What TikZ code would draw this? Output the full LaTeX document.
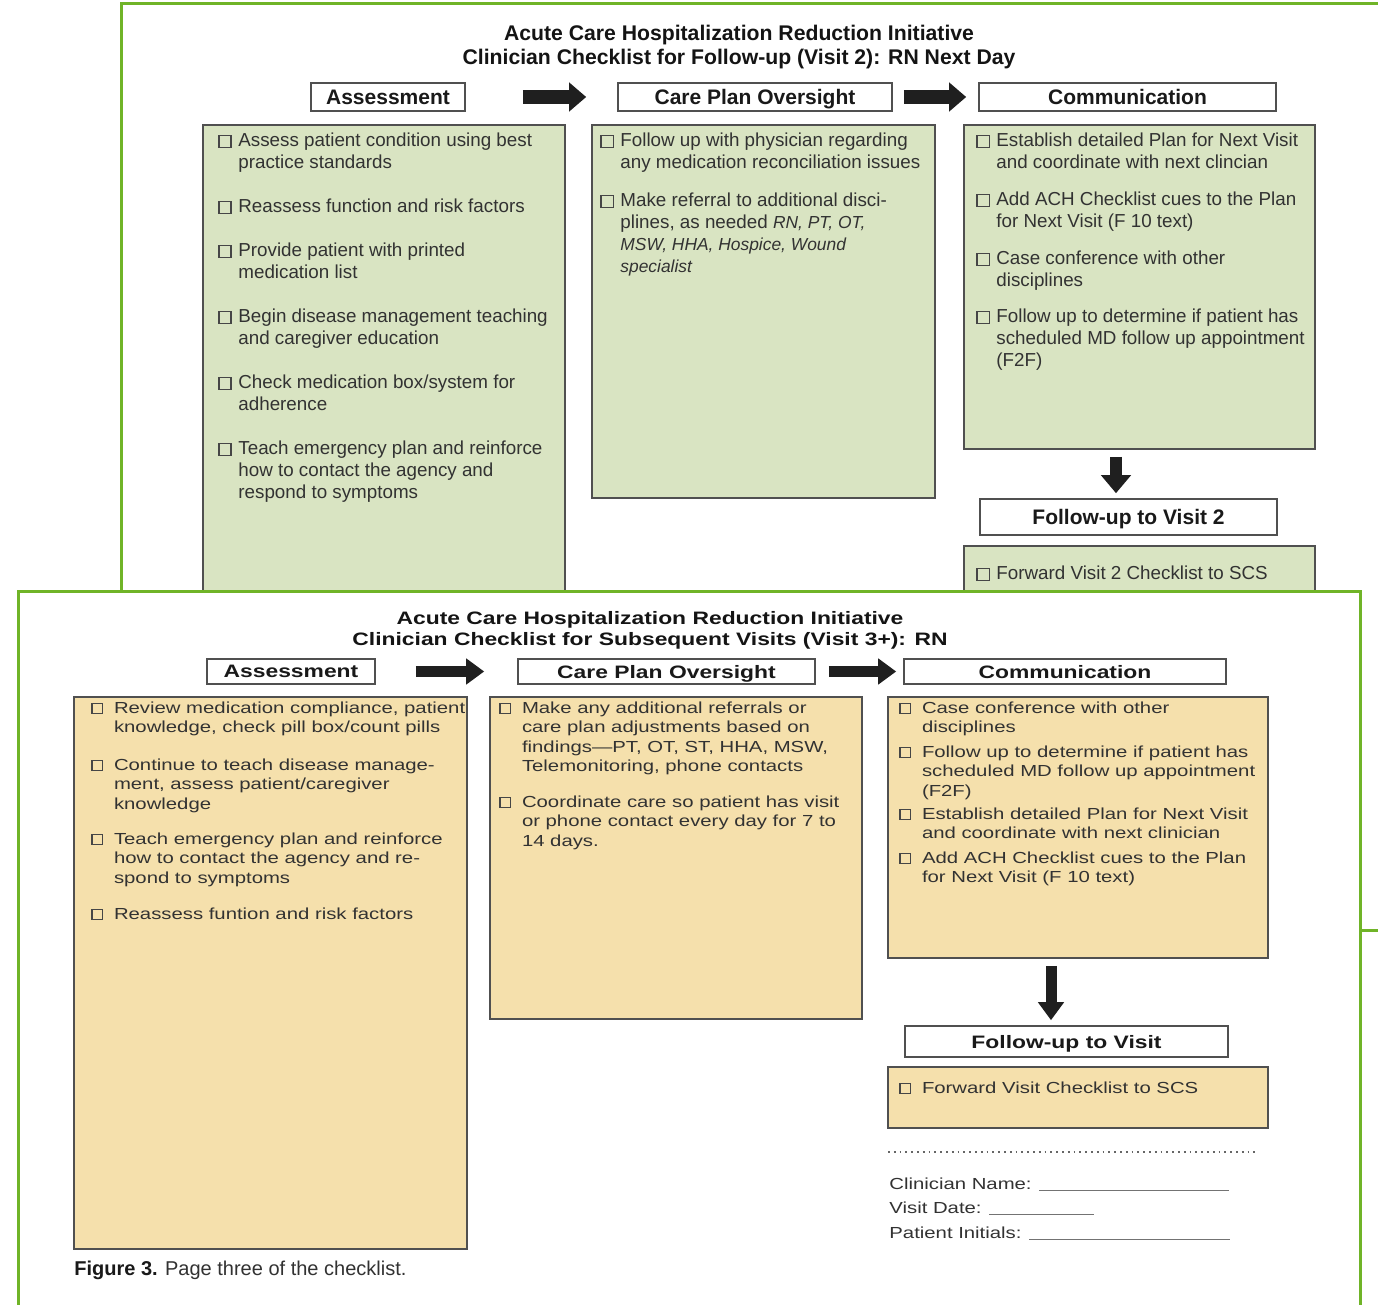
\documentclass[tikz,border=0pt]{standalone}
\usepackage{fontspec}
\setmainfont{Liberation Sans}
\newfontfamily\widefont[FakeStretch=1.27]{Liberation Sans}
\usetikzlibrary{arrows.meta,fit}
\definecolor{panelgreen}{RGB}{112,180,40}
\definecolor{boxgreen}{RGB}{217,228,194}
\definecolor{boxtan}{RGB}{245,224,172}
\definecolor{boxline}{RGB}{80,80,80}
\definecolor{txt}{RGB}{50,50,50}
\definecolor{cbcol}{RGB}{70,70,70}
\newcommand\cbx[1]{\begingroup\setlength\fboxsep{0pt}\setlength\fboxrule{0.55pt}\color{cbcol}\fbox{\rule{0pt}{#1}\hspace{#1}}\endgroup}
\newcommand\titem[1]{\makebox[10pt][l]{\cbx{5.5pt}}\begin{tabular}[t]{@{}l@{}}#1\end{tabular}}
\newcommand\bitem[1]{\makebox[11.3pt][l]{\cbx{4.6pt}}\begin{tabular}[t]{@{}l@{}}#1\end{tabular}}
\newcommand\sit[1]{{\fontsize{8.7}{11}\selectfont\itshape #1}}
\begin{document}
\begin{tikzpicture}[x=0.5pt,y=-0.5pt,
  panel/.style={draw=panelgreen, line width=1.5pt, fill=white, inner sep=0pt},
  gbox/.style={draw=boxline, line width=0.8pt, fill=boxgreen, inner sep=0pt},
  tbox/.style={draw=boxline, line width=0.8pt, fill=boxtan, inner sep=0pt},
  hdr/.style={draw=boxline, line width=0.8pt, fill=white, inner sep=0pt,
     label={[text=black!90, text depth=0pt, font=\bfseries\fontsize{10.5}{12}\selectfont]center:#1}},
  bhdr/.style={draw=boxline, line width=0.8pt, fill=white, inner sep=0pt,
     label={[text=black!90, text depth=0pt, font=\widefont\bfseries\fontsize{9}{11}\selectfont]center:#1}},
  titm/.style={anchor=base west, inner sep=0pt, text=txt, font=\fontsize{9.4}{11}\selectfont},
  bitm/.style={anchor=base west, inner sep=0pt, text=txt, font=\widefont\fontsize{8}{9.75}\selectfont},
  tarrow/.style={line width=7pt, black!88, -{Triangle[length=8.5pt,width=14pt]}},
  barrow/.style={line width=5.5pt, black!88, -{Triangle[length=9pt,width=12.5pt]}},
]
\useasboundingbox (0,0) rectangle (1378,1305);
\begin{scope}
\clip (0,0) rectangle (1378,1305);
\fill[white] (0,0) rectangle (1378,1305);
% ---------------- top panel ----------------
\node[panel, fit={(121,4) (1400,930)}] (p1) {};
\node[font=\bfseries\fontsize{10.6}{12}\selectfont, align=center, text=black!92] (t1) at (739,47)
  {Acute Care Hospitalization Reduction Initiative\\Clinician Checklist for Follow-up (Visit 2): RN Next Day};
\node[hdr=Assessment, fit={(311,83) (465,111)}] (ha1) {};
\node[hdr=Care Plan Oversight, fit={(618,83) (892,111)}] (hc1) {};
\node[hdr=Communication, fit={(979,83) (1276,111)}] (hm1) {};
\draw[tarrow, shorten <=28.5pt, shorten >=15.5pt] (ha1.east) -- (hc1.west);
\draw[tarrow, shorten <=5.5pt, shorten >=6pt] (hc1.east) -- (hm1.west);

\node[gbox, fit={(203,125) (565,640)}] (ba1) {};
\node[gbox, fit={(592,125) (935,498)}] (bc1) {};
\node[gbox, fit={(964,125) (1315,449)}] (bm1) {};
\node[hdr=Follow-up to Visit 2, fit={(980,499) (1277,535)}] (hf1) {};
\node[gbox, fit={(964,546) (1315,640)}] (bf1) {};
\coordinate (dx1) at (1116,0);
\draw[line width=6pt, black!88, -{Triangle[length=9pt,width=14.5pt]}, shorten <=3.5pt, shorten >=2.5pt]
  (bm1.south -| dx1) -- (hf1.north -| dx1);

\node[titm] (ta1) at (218,147) {\titem{Assess patient condition using best\\practice standards}};
\node[titm] (ta2) at (218,213) {\titem{Reassess function and risk factors}};
\node[titm] (ta3) at (218,257) {\titem{Provide patient with printed\\medication list}};
\node[titm] (ta4) at (218,323) {\titem{Begin disease management teaching\\and caregiver education}};
\node[titm] (ta5) at (218,389) {\titem{Check medication box/system for\\adherence}};
\node[titm] (ta6) at (218,455) {\titem{Teach emergency plan and reinforce\\how to contact the agency and\\respond to symptoms}};

\node[titm] (tc1) at (600,147) {\titem{Follow up with physician regarding\\any medication reconciliation issues}};
\node[titm] (tc2) at (600,207) {\titem{Make referral to additional disci-\\plines, as needed \sit{RN, PT, OT,}\\\sit{MSW, HHA, Hospice, Wound}\\\sit{specialist}}};

\node[titm] (tm1) at (976,147) {\titem{Establish detailed Plan for Next Visit\\and coordinate with next clincian}};
\node[titm] (tm2) at (976,206) {\titem{Add ACH Checklist cues to the Plan\\for Next Visit (F 10 text)}};
\node[titm] (tm3) at (976,265) {\titem{Case conference with other\\disciplines}};
\node[titm] (tm4) at (976,323) {\titem{Follow up to determine if patient has\\scheduled MD follow up appointment\\(F2F)}};
\node[titm] (tf1) at (976,580) {\titem{Forward Visit 2 Checklist to SCS}};

% ---------------- bottom panel ----------------
\node[panel, fit={(18,591) (1360,1340)}] (p2) {};
\node[font=\widefont\bfseries\fontsize{9}{10.6}\selectfont, align=center, text=black!92] (t2) at (650,630)
  {Acute Care Hospitalization Reduction Initiative\\Clinician Checklist for Subsequent Visits (Visit 3+): RN};
\node[bhdr=Assessment, fit={(207,659) (375,684)}] (ha2) {};
\node[bhdr=Care Plan Oversight, fit={(518,659) (815,684)}] (hc2) {};
\node[bhdr=Communication, fit={(904,659) (1226,684)}] (hm2) {};
\draw[barrow, shorten <=20pt, shorten >=16.5pt] (ha2.east) -- (hc2.west);
\draw[barrow, shorten <=6.5pt, shorten >=3.5pt] (hc2.east) -- (hm2.west);

\node[tbox, fit={(74,697) (467,1249)}] (ba2) {};
\node[tbox, fit={(490,697) (862,1019)}] (bc2) {};
\node[tbox, fit={(888,697) (1268,958)}] (bm2) {};
\node[bhdr=Follow-up to Visit, fit={(905,1026) (1228,1057)}] (hf2) {};
\node[tbox, fit={(888,1067) (1268,1128)}] (bf2) {};
\coordinate (dx2) at (1051,0);
\draw[barrow, shorten <=3.5pt, shorten >=2.5pt] (bm2.south -| dx2) -- (hf2.north -| dx2);

\node[bitm] (ba2a) at (91,713) {\bitem{Review medication compliance, patient\\knowledge, check pill box/count pills}};
\node[bitm] (ba2b) at (91,770) {\bitem{Continue to teach disease manage-\\ment, assess patient/caregiver\\knowledge}};
\node[bitm] (ba2c) at (91,844) {\bitem{Teach emergency plan and reinforce\\how to contact the agency and re-\\spond to symptoms}};
\node[bitm] (ba2d) at (91,919) {\bitem{Reassess funtion and risk factors}};

\node[bitm] (bc2a) at (499,713) {\bitem{Make any additional referrals or\\care plan adjustments based on\\findings—PT, OT, ST, HHA, MSW,\\Telemonitoring, phone contacts}};
\node[bitm] (bc2b) at (499,807) {\bitem{Coordinate care so patient has visit\\or phone contact every day for 7 to\\14 days.}};

\node[bitm] (bm2a) at (899,713) {\bitem{Case conference with other\\disciplines}};
\node[bitm] (bm2b) at (899,757) {\bitem{Follow up to determine if patient has\\scheduled MD follow up appointment\\(F2F)}};
\node[bitm] (bm2c) at (899,819) {\bitem{Establish detailed Plan for Next Visit\\and coordinate with next clinician}};
\node[bitm] (bm2d) at (899,863) {\bitem{Add ACH Checklist cues to the Plan\\for Next Visit (F 10 text)}};
\node[bitm] (bf2a) at (899,1093) {\bitem{Forward Visit Checklist to SCS}};

\draw[black!60, line width=0.9pt, dotted] (888,1152) -- (1258,1152);
\node[bitm] (s1) at (889,1189) {Clinician Name: {\color{black!55}\rule[-1pt]{95pt}{0.6pt}}};
\node[bitm] (s2) at (889,1213) {Visit Date: {\color{black!55}\rule[-1pt]{52.5pt}{0.6pt}}};
\node[bitm] (s3) at (889,1238) {Patient Initials: {\color{black!55}\rule[-1pt]{100.5pt}{0.6pt}}};

\node[anchor=base west, inner sep=0pt, text=txt, font=\fontsize{10}{12}\selectfont] (cap) at (74,1275)
  {{\color{black!90}\textbf{Figure 3.}} Page three of the checklist.};
\end{scope}
\end{tikzpicture}
\end{document}
